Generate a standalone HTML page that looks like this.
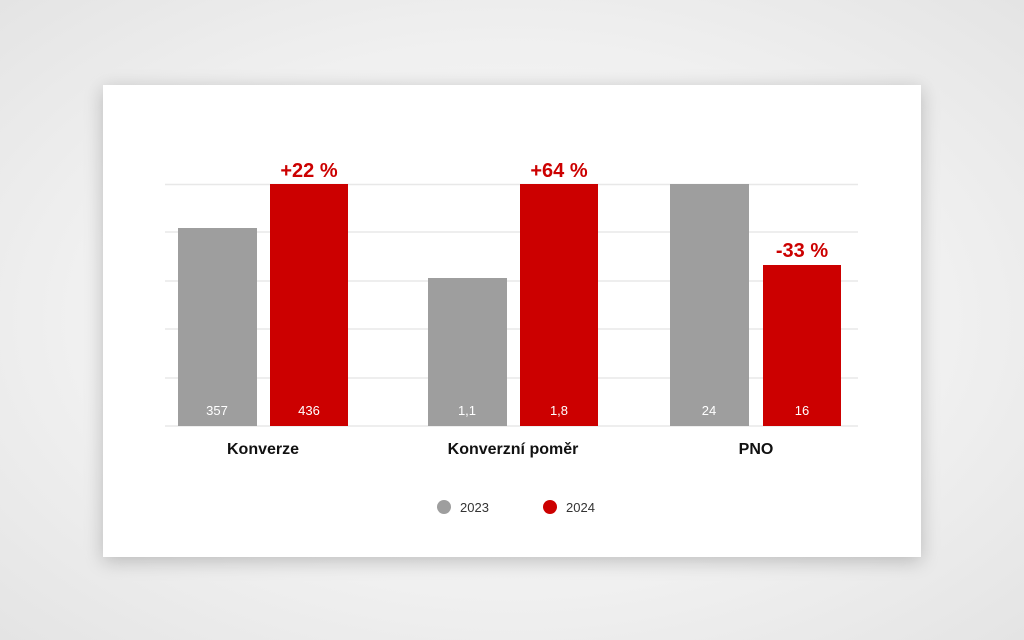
<!DOCTYPE html>
<html><head><style>
html,body{margin:0;padding:0;width:1024px;height:640px;overflow:hidden;background:radial-gradient(ellipse at 50% 50%,#fafafa 0%,#f0f0f0 60%,#e4e4e4 100%);font-family:"Liberation Sans",sans-serif}
.card{position:absolute;left:103px;top:85px;width:818px;height:472px;background:#fff;box-shadow:0 4px 18px rgba(0,0,0,0.22)}
svg{position:absolute;left:0;top:0}
</style></head><body>
<div class="card"></div>
<svg width="1024" height="640" viewBox="0 0 1024 640" font-family="Liberation Sans, sans-serif">
<g stroke="#e8e8e8" stroke-width="1.5">
<line x1="165" y1="184.5" x2="858" y2="184.5"/>
<line x1="165" y1="232" x2="858" y2="232"/>
<line x1="165" y1="281" x2="858" y2="281"/>
<line x1="165" y1="329" x2="858" y2="329"/>
<line x1="165" y1="378" x2="858" y2="378"/>
<line x1="165" y1="426" x2="858" y2="426"/>
</g>
<rect x="178" y="228" width="79" height="198" fill="#9e9e9e"/>
<rect x="270" y="184" width="78" height="242" fill="#cc0000"/>
<rect x="428" y="278" width="79" height="148" fill="#9e9e9e"/>
<rect x="520" y="184" width="78" height="242" fill="#cc0000"/>
<rect x="670" y="184" width="79" height="242" fill="#9e9e9e"/>
<rect x="763" y="265" width="78" height="161" fill="#cc0000"/>
<g fill="#fff" font-size="13" text-anchor="middle">
<text x="217" y="415">357</text><text x="309" y="415">436</text>
<text x="467" y="415">1,1</text><text x="559" y="415">1,8</text>
<text x="709" y="415">24</text><text x="802" y="415">16</text>
</g>
<g fill="#cc0000" font-size="20" font-weight="bold" text-anchor="middle">
<text x="309" y="177">+22 %</text><text x="559" y="177">+64 %</text><text x="802" y="257">-33 %</text>
</g>
<g fill="#111" font-size="16" font-weight="bold" text-anchor="middle">
<text x="263" y="454">Konverze</text><text x="513" y="454">Konverzní poměr</text><text x="756" y="454">PNO</text>
</g>
<circle cx="444" cy="507" r="7" fill="#9e9e9e"/>
<text x="460" y="512" font-size="13" fill="#333">2023</text>
<circle cx="550" cy="507" r="7" fill="#cc0000"/>
<text x="566" y="512" font-size="13" fill="#333">2024</text>
</svg>
</body></html>
